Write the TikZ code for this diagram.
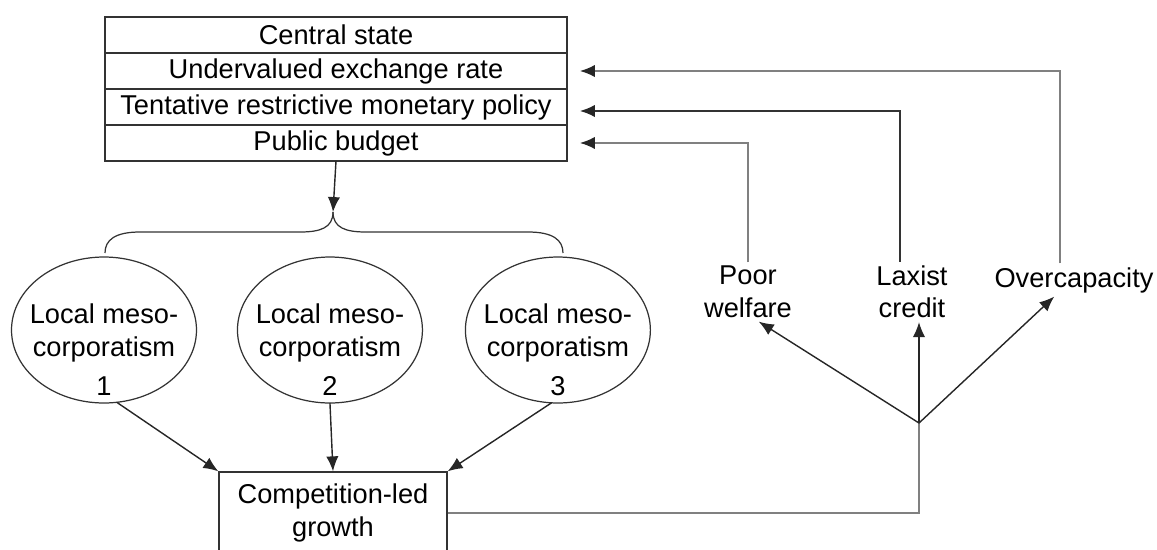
\documentclass[tikz,border=0pt]{standalone}
\usepackage{fontspec}
\setmainfont{Liberation Sans}
\usetikzlibrary{positioning,arrows.meta,shapes.geometric}

\begin{document}
\begin{tikzpicture}[x=0.02cm, y=-0.02cm,
    every node/.style={font=\fontsize{15.5}{18.5}\selectfont},
    row/.style={draw=black!80, line width=0.8pt, minimum width=9.24cm, minimum height=0.72cm, inner sep=0pt, outer sep=0pt},
    meso/.style={draw=black!80, ellipse, line width=0.7pt, minimum width=3.7cm, minimum height=2.92cm, inner sep=0pt, outer sep=0pt},
    txt/.style={align=center, inner sep=2pt},
    arr/.style={line width=0.8pt, black!85, -{Latex[length=8.5pt,width=7pt]}},
    gline/.style={line width=0.9pt, black!50},
    garr/.style={gline, -{Latex[length=8.5pt,width=7pt,color=black!85]}}]

    \useasboundingbox (0,0) rectangle (1157,549);

    % Define nodes
    \node[row]                   (cs)  at (336,35) {Central state};
    \node[row, below=0pt of cs]  (uer) {Undervalued exchange rate};
    \node[row, below=0pt of uer] (trm) {Tentative restrictive monetary policy};
    \node[row, below=0pt of trm] (pb)  {Public budget};

    \node[meso]                   (m1) at (104,330) {};
    \node[meso, right=0.82cm of m1] (m2) {};
    \node[meso, right=0.86cm of m2] (m3) {};
    \node[txt] (t1) at ([yshift=-0.4cm]m1.center) {Local meso-\\corporatism\\[4pt]1};
    \node[txt] (t2) at ([yshift=-0.4cm]m2.center) {Local meso-\\corporatism\\[4pt]2};
    \node[txt] (t3) at ([yshift=-0.4cm]m3.center) {Local meso-\\corporatism\\[4pt]3};

    \node[draw=black!80, line width=0.8pt, minimum width=4.56cm, minimum height=1.64cm, align=center] (cg) at (333,513) {Competition-led\\growth};

    \node[txt] (pw) at (748,292)  {Poor\\welfare};
    \node[txt] (lc) at (912,292)  {Laxist\\credit};
    \node[txt] (oc) at (1074,280) {Overcapacity};

    \coordinate (tip)  at (333,212);
    \coordinate (fork) at (919,423);

    % Connect the nodes
    \draw[arr] (pb.south) -- (tip);
    \draw[line width=0.7pt, black!80] (tip) .. controls (333,228) and (320,232) .. (300,232) -- (140,232)
        .. controls (115,232) and (105,240) .. (105,253);
    \draw[line width=0.7pt, black!80] (tip) .. controls (333,228) and (346,232) .. (366,232) -- (528,232)
        .. controls (553,232) and (563,240) .. (563,253);

    \draw[arr] (m1.-80) -- (cg.north west);
    \draw[arr] (m2.south) -- (cg.north);
    \draw[arr] (m3.-95) -- (cg.north east);

    \draw[gline] (cg.east) -| (fork);
    \draw[arr] (fork) -- (pw.-70);
    \draw[arr] (fork) -- (fork |- lc.south);
    \draw[arr] (fork) -- (oc.-140);

    % Feedback to the state
    \draw[garr] (pw.north) |- ([xshift=0.26cm]pb.east);
    \draw[garr, black!80] ([xshift=-0.24cm]lc.north) |- ([xshift=0.26cm, yshift=-0.08cm]trm.east);
    \draw[garr] ([xshift=-0.28cm]oc.north) |- ([xshift=0.26cm]uer.east);

\end{tikzpicture}
\end{document}
